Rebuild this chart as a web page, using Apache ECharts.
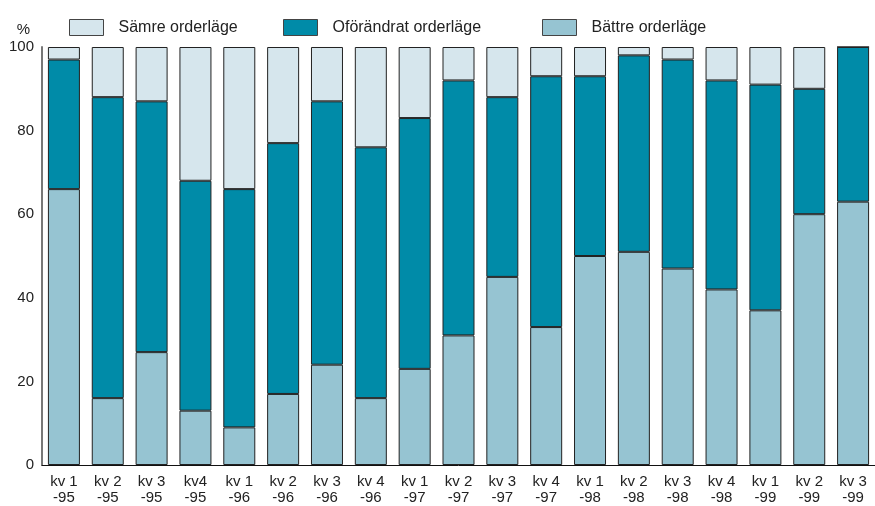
<!DOCTYPE html>
<html>
<head>
<meta charset="utf-8">
<script src="https://cdn.jsdelivr.net/npm/echarts@6/dist/echarts.min.js"></script>
<style>
  html, body { margin: 0; padding: 0; background: #fff; }
  #chart { width: 875px; height: 506px; }
</style>
</head>
<body>
<div id="chart"></div>
<script>
// quarters
const categories = [
  "kv 1\n-95", "kv 2\n-95", "kv 3\n-95", "kv4\n-95",
  "kv 1\n-96", "kv 2\n-96", "kv 3\n-96", "kv 4\n-96",
  "kv 1\n-97", "kv 2\n-97", "kv 3\n-97", "kv 4\n-97",
  "kv 1\n-98", "kv 2\n-98", "kv 3\n-98", "kv 4\n-98",
  "kv 1\n-99", "kv 2\n-99", "kv 3\n-99"
];
// share of companies, %
const battre = [66, 16, 27, 13, 9, 17, 24, 16, 23, 31, 45, 33, 50, 51, 47, 42, 37, 60, 63];
const oforandrat = [31, 72, 60, 55, 57, 60, 63, 60, 60, 61, 43, 60, 43, 47, 50, 50, 54, 30, 37];
const samre = [3, 12, 13, 32, 34, 23, 13, 24, 17, 8, 12, 7, 7, 2, 3, 8, 9, 10, 0];
const yTicks = [0, 20, 40, 60, 80, 100];

const font = "Liberation Sans";
const chart = echarts.init(document.getElementById("chart"));

const legendItem = (name, left) => ({
  left: left,
  top: 14,
  data: [name],
  icon: "rect",
  itemWidth: 34,
  itemHeight: 16,
  itemStyle: { borderColor: "#444", borderWidth: 1 },
  textStyle: { fontFamily: font, fontSize: 16, color: "#222", padding: [0, 0, 0, 10] }
});

const barSeries = (name, data, color) => ({
  name: name,
  type: "bar",
  stack: "total",
  barWidth: 32,
  data: data,
  itemStyle: { color: color, borderColor: "#222", borderWidth: 1 }
});

chart.setOption({
  animation: false,
  legend: [
    legendItem("Sämre orderläge", 64),
    legendItem("Oförändrat orderläge", 278),
    legendItem("Bättre orderläge", 537)
  ],
  grid: { left: 42, right: -3, top: 47, bottom: 40 },
  xAxis: {
    type: "category",
    data: categories,
    axisTick: { show: false },
    axisLine: { lineStyle: { color: "#111", width: 1 } },
    axisLabel: {
      fontFamily: font, fontSize: 15, color: "#222",
      lineHeight: 16, margin: 9, interval: 0
    }
  },
  yAxis: {
    type: "value",
    min: yTicks[0],
    max: yTicks[yTicks.length - 1],
    interval: 20,
    name: "%",
    nameGap: 10,
    nameTextStyle: { fontFamily: font, fontSize: 15, color: "#222", align: "right", padding: [0, 12, 0, 0] },
    axisTick: { show: false },
    splitLine: { show: false },
    axisLine: { show: true, lineStyle: { color: "#777", width: 2 } },
    axisLabel: { fontFamily: font, fontSize: 15, color: "#222", margin: 8 }
  },
  series: [
    barSeries("Bättre orderläge", battre, "#96c4d2"),
    barSeries("Oförändrat orderläge", oforandrat, "#008ba8"),
    barSeries("Sämre orderläge", samre, "#d6e6ed")
  ]
});
</script>
</body>
</html>
